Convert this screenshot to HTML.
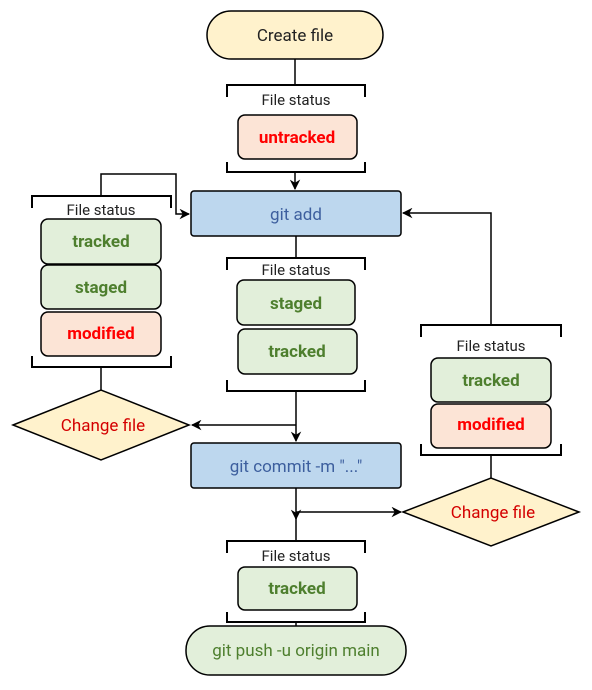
<!DOCTYPE html>
<html><head><style>body{margin:0;background:#fff}</style></head><body>
<svg width="592" height="685" viewBox="0 0 592 685" xmlns="http://www.w3.org/2000/svg" font-family="Roboto, 'Liberation Sans', sans-serif">
<defs><marker id="a" viewBox="0 0 10 10" refX="9" refY="5" markerWidth="7" markerHeight="7" orient="auto"><path d="M0,0 L10,5 L0,10 L3,5 z" fill="#000"/></marker></defs>
<g stroke="#000" stroke-width="1.5" fill="none">
<line x1="295" y1="59" x2="295" y2="85"/>
<line x1="295" y1="172" x2="295" y2="189" marker-end="url(#a)"/>
<line x1="296" y1="236" x2="296" y2="258"/>
<line x1="296" y1="391" x2="296" y2="441" marker-end="url(#a)"/>
<line x1="296" y1="425" x2="192" y2="425" marker-end="url(#a)"/>
<line x1="296" y1="488" x2="296" y2="519" marker-end="url(#a)"/>
<line x1="296" y1="515" x2="296" y2="541"/>
<line x1="296" y1="512" x2="401" y2="512" marker-end="url(#a)"/>
<line x1="296" y1="622" x2="296" y2="626"/>
<line x1="101" y1="367" x2="101" y2="390"/>
<polyline points="101,196 101,174 176,174 176,214 189,214" marker-end="url(#a)"/>
<line x1="491" y1="455" x2="491" y2="478"/>
<polyline points="491,325 491,213 403,213" marker-end="url(#a)"/>
</g>
<g stroke="#000" stroke-width="2" fill="none">
<path d="M227,97 V85 H365 V97 M227,162 V172 H365 V162"/>
<path d="M227,270 V258 H365 V270 M227,380 V391 H365 V380"/>
<path d="M227,553 V541 H365 V553 M227,612 V622 H365 V612"/>
<path d="M32,208 V196 H171 V208 M32,356 V367 H171 V356"/>
<path d="M421,337 V325 H561 V337 M421,444 V455 H561 V444"/>
</g>
<g stroke="#000" stroke-width="1.5">
<rect x="207" y="11" width="176" height="48" rx="24" fill="#fff2cc"/>
<rect x="191" y="191" width="210" height="45" rx="3" fill="#bdd7ee"/>
<rect x="191" y="443" width="210" height="45" rx="3" fill="#bdd7ee"/>
<rect x="186" y="626" width="220" height="49" rx="24" fill="#e2efda"/>
<polygon points="13,425 101,390 189,425 101,460" fill="#fff2cc"/>
<polygon points="403,512 491,478 579,512 491,546" fill="#fff2cc"/>
<g fill="#e2efda">
<rect x="41" y="219" width="120" height="45" rx="7"/>
<rect x="41" y="265" width="120" height="44" rx="7"/>
<rect x="237" y="280" width="118" height="45" rx="7"/>
<rect x="238" y="329" width="119" height="45" rx="7"/>
<rect x="431" y="358" width="120" height="44" rx="7"/>
<rect x="238" y="567" width="119" height="43" rx="7"/>
</g>
<g fill="#fce4d6">
<rect x="238" y="115" width="119" height="44" rx="7"/>
<rect x="41" y="312" width="120" height="44" rx="7"/>
<rect x="431" y="404" width="120" height="44" rx="7"/>
</g>
</g>
<g text-anchor="middle" font-size="17">
<text x="295" y="41" fill="#222">Create file</text>
<text x="296" y="220" fill="#3d5f9e">git add</text>
<text x="296" y="472" fill="#3d5f9e">git commit -m "..."</text>
<text x="296" y="656" fill="#4e7f2e">git push -u origin main</text>
<text x="103" y="431" fill="#d40000">Change file</text>
<text x="493" y="518" fill="#d40000">Change file</text>
<g font-size="15" fill="#222">
<text x="296" y="105">File status</text>
<text x="296" y="275">File status</text>
<text x="296" y="561">File status</text>
<text x="101" y="215">File status</text>
<text x="491" y="351">File status</text>
</g>
<g font-weight="bold" fill="#4e7f2e">
<text x="101" y="247">tracked</text>
<text x="101" y="293">staged</text>
<text x="296" y="309">staged</text>
<text x="297" y="357">tracked</text>
<text x="491" y="386">tracked</text>
<text x="297" y="594">tracked</text>
</g>
<g font-weight="bold" fill="#ff0000">
<text x="297" y="143">untracked</text>
<text x="101" y="339">modified</text>
<text x="491" y="430">modified</text>
</g>
</g>
</svg>
</body></html>
